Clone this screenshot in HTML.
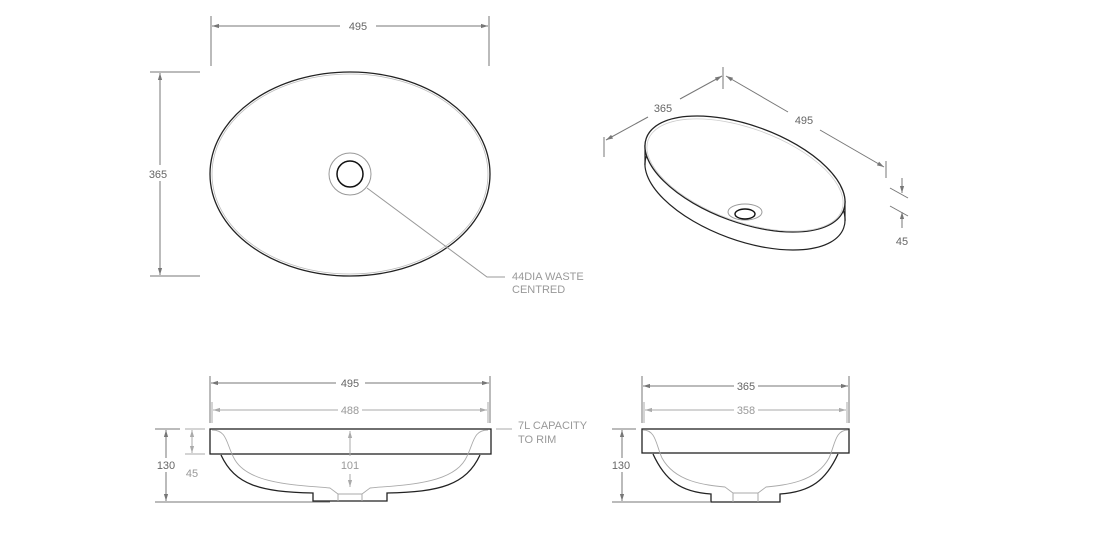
<!DOCTYPE html>
<html><head><meta charset="utf-8"><style>
html,body{margin:0;padding:0;background:#fff;}
svg{display:block;font-family:"Liberation Sans",sans-serif;}
</style></head><body>
<svg width="1101" height="549" viewBox="0 0 1101 549" xmlns="http://www.w3.org/2000/svg">
<defs>
<marker id="a" viewBox="0 0 10 10" refX="10" refY="5" markerWidth="7" markerHeight="7" orient="auto-start-reverse"><path d="M0,2 L10,5 L0,8 z" fill="#777"/></marker>
<marker id="b" viewBox="0 0 10 10" refX="10" refY="5" markerWidth="7" markerHeight="7" orient="auto-start-reverse"><path d="M0,2 L10,5 L0,8 z" fill="#aaa"/></marker>
</defs>
<g font-size="11" fill="#666" text-anchor="middle">
<!-- top view -->
<line x1="211" y1="16" x2="211" y2="66" stroke="#777"/>
<line x1="489" y1="16" x2="489" y2="66" stroke="#777"/>
<line x1="212" y1="26" x2="340" y2="26" stroke="#777" marker-start="url(#a)"/>
<line x1="376" y1="26" x2="488" y2="26" stroke="#777" marker-end="url(#a)"/>
<text x="358" y="30">495</text>
<line x1="150" y1="72" x2="200" y2="72" stroke="#777"/>
<line x1="150" y1="276" x2="200" y2="276" stroke="#777"/>
<line x1="160" y1="73" x2="160" y2="275" stroke="#777" marker-start="url(#a)" marker-end="url(#a)"/>
<rect x="146" y="165" width="28" height="16" fill="#fff"/>
<text x="158" y="178">365</text>
<ellipse cx="350" cy="174" rx="140" ry="102" fill="none" stroke="#222" stroke-width="1.3"/>
<ellipse cx="350" cy="174" rx="138" ry="100" fill="none" stroke="#bbb" stroke-width="0.8"/>
<circle cx="350" cy="174" r="21" fill="none" stroke="#999"/>
<circle cx="350" cy="174" r="13" fill="none" stroke="#111" stroke-width="1.5"/>
<polyline points="367,188 487,277 505,277" fill="none" stroke="#999"/>
<text x="512" y="280" text-anchor="start" fill="#999">44DIA WASTE</text>
<text x="512" y="293" text-anchor="start" fill="#999">CENTRED</text>
<!-- iso view -->
<line x1="604" y1="137" x2="604" y2="157" stroke="#777"/>
<line x1="723" y1="67" x2="723" y2="89" stroke="#777"/>
<line x1="886" y1="161" x2="886" y2="178" stroke="#777"/>
<line x1="606" y1="140" x2="648" y2="117" stroke="#777" marker-start="url(#a)"/>
<line x1="680" y1="99" x2="722" y2="76" stroke="#777" marker-end="url(#a)"/>
<text x="663" y="112">365</text>
<line x1="726" y1="76" x2="788" y2="112" stroke="#777" marker-start="url(#a)"/>
<line x1="820" y1="130" x2="884" y2="167" stroke="#777" marker-end="url(#a)"/>
<text x="804" y="124">495</text>
<line x1="890" y1="188" x2="908" y2="198" stroke="#777"/>
<line x1="890" y1="206" x2="908" y2="216" stroke="#777"/>
<line x1="902" y1="178" x2="902" y2="193" stroke="#777" marker-end="url(#a)"/>
<line x1="902" y1="228" x2="902" y2="212" stroke="#777" marker-end="url(#a)"/>
<text x="902" y="245">45</text>
<ellipse cx="745" cy="192" rx="105" ry="48.5" transform="rotate(20 745 192)" fill="#fff" stroke="#222" stroke-width="1.2"/>
<line x1="645" y1="145" x2="645" y2="165" stroke="#222" stroke-width="1.2"/>
<line x1="845" y1="201" x2="845" y2="221" stroke="#222" stroke-width="1.2"/>
<ellipse cx="745" cy="174" rx="105" ry="48.5" transform="rotate(20 745 174)" fill="#fff" stroke="#222" stroke-width="1.3"/>
<ellipse cx="745" cy="175" rx="103" ry="46.5" transform="rotate(20 745 175)" fill="none" stroke="#ccc" stroke-width="0.8"/>
<ellipse cx="745" cy="212" rx="17" ry="8" fill="none" stroke="#999"/>
<ellipse cx="745" cy="214" rx="10" ry="5" fill="none" stroke="#111" stroke-width="1.4"/>
<!-- front view -->
<line x1="210" y1="376" x2="210" y2="423" stroke="#777"/>
<line x1="490" y1="376" x2="490" y2="423" stroke="#777"/>
<line x1="211" y1="383" x2="336" y2="383" stroke="#777" marker-start="url(#a)"/>
<line x1="365" y1="383" x2="489" y2="383" stroke="#777" marker-end="url(#a)"/>
<text x="350" y="387">495</text>
<line x1="212" y1="402" x2="212" y2="423" stroke="#aaa"/>
<line x1="488" y1="402" x2="488" y2="423" stroke="#aaa"/>
<line x1="213" y1="410" x2="338" y2="410" stroke="#aaa" marker-start="url(#b)"/>
<line x1="362" y1="410" x2="487" y2="410" stroke="#aaa" marker-end="url(#b)"/>
<text x="350" y="414" fill="#999">488</text>
<line x1="496" y1="429" x2="512" y2="429" stroke="#aaa"/>
<text x="518" y="429" text-anchor="start" fill="#999">7L CAPACITY</text>
<text x="518" y="443" text-anchor="start" fill="#999">TO RIM</text>
<line x1="155" y1="429" x2="180" y2="429" stroke="#777"/>
<line x1="155" y1="502" x2="330" y2="502" stroke="#777"/>
<line x1="166" y1="430" x2="166" y2="501" stroke="#777" marker-start="url(#a)" marker-end="url(#a)"/>
<rect x="150" y="458" width="30" height="14" fill="#fff"/>
<text x="166" y="469">130</text>
<line x1="185" y1="429" x2="205" y2="429" stroke="#aaa"/>
<line x1="185" y1="454" x2="205" y2="454" stroke="#aaa"/>
<line x1="192" y1="430" x2="192" y2="453" stroke="#aaa" marker-start="url(#b)" marker-end="url(#b)"/>
<text x="192" y="477" fill="#999">45</text>
<rect x="210" y="429" width="281" height="25" fill="none" stroke="#222" stroke-width="1.3"/>
<path d="M221,455 C235,485 260,492 313,493 L313,501 L387,501 L387,493 C440,492 466,485 480,455" fill="none" stroke="#222" stroke-width="1.3"/>
<path d="M212,430 C228,430 226,445 235,460 C250,485 300,485 330,488 L338,494 L362,494 L370,488 C400,485 450,485 465,460 C474,445 472,430 488,430" fill="none" stroke="#aaa" stroke-width="0.9"/>
<line x1="338" y1="494" x2="338" y2="501" stroke="#aaa"/>
<line x1="362" y1="494" x2="362" y2="501" stroke="#aaa"/>
<line x1="350" y1="431" x2="350" y2="456" stroke="#aaa" marker-start="url(#b)"/>
<line x1="350" y1="474" x2="350" y2="487" stroke="#aaa" marker-end="url(#b)"/>
<text x="350" y="469" fill="#999">101</text>
<!-- side view -->
<line x1="642" y1="376" x2="642" y2="423" stroke="#777"/>
<line x1="849" y1="376" x2="849" y2="423" stroke="#777"/>
<line x1="643" y1="386" x2="734" y2="386" stroke="#777" marker-start="url(#a)"/>
<line x1="758" y1="386" x2="848" y2="386" stroke="#777" marker-end="url(#a)"/>
<text x="746" y="390">365</text>
<line x1="644" y1="402" x2="644" y2="423" stroke="#aaa"/>
<line x1="847" y1="402" x2="847" y2="423" stroke="#aaa"/>
<line x1="645" y1="410" x2="734" y2="410" stroke="#aaa" marker-start="url(#b)"/>
<line x1="758" y1="410" x2="846" y2="410" stroke="#aaa" marker-end="url(#b)"/>
<text x="746" y="414" fill="#999">358</text>
<line x1="612" y1="429" x2="636" y2="429" stroke="#777"/>
<line x1="612" y1="502" x2="710" y2="502" stroke="#777"/>
<line x1="622" y1="430" x2="622" y2="501" stroke="#777" marker-start="url(#a)" marker-end="url(#a)"/>
<rect x="606" y="458" width="30" height="14" fill="#fff"/>
<text x="621" y="469">130</text>
<rect x="642" y="429" width="207" height="24" fill="none" stroke="#222" stroke-width="1.3"/>
<path d="M653,454 C665,480 680,492 711,494 L711,502 L780,502 L780,494 C811,492 826,480 838,454" fill="none" stroke="#222" stroke-width="1.3"/>
<path d="M643,430 C656,430 656,445 662,458 C675,482 705,485 725,487 L733,493 L758,493 L766,487 C786,485 816,482 829,458 C835,445 835,430 848,430" fill="none" stroke="#aaa" stroke-width="0.9"/>
<line x1="733" y1="493" x2="733" y2="502" stroke="#aaa"/>
<line x1="758" y1="493" x2="758" y2="502" stroke="#aaa"/>
</g>
</svg>
</body></html>
